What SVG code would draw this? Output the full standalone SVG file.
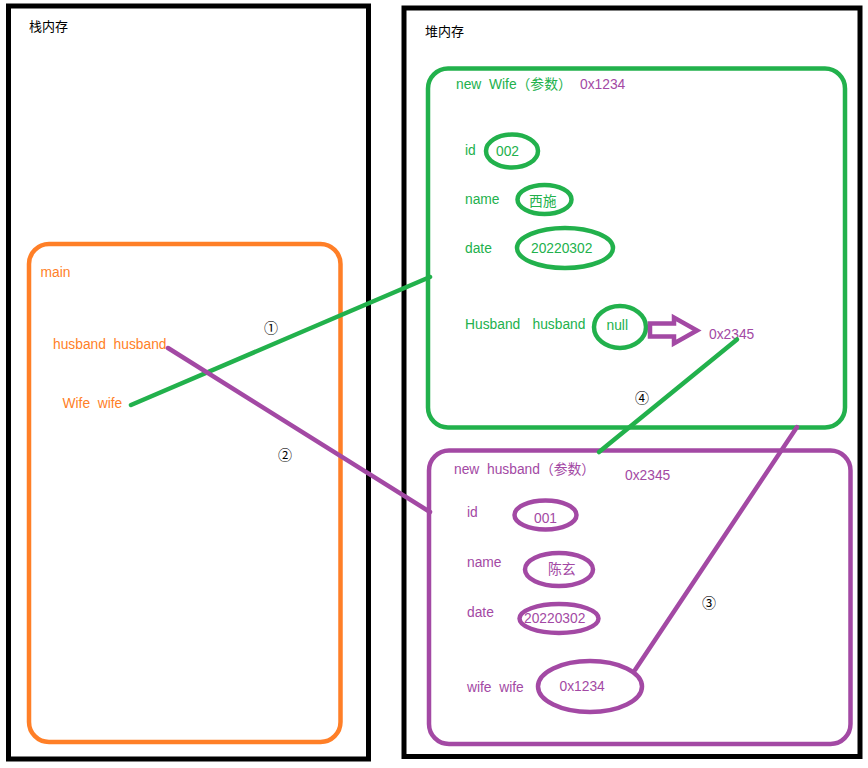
<svg xmlns="http://www.w3.org/2000/svg" width="868" height="768" viewBox="0 0 868 768">
  <style>
    text { font-family: "Liberation Sans", "Noto Sans CJK SC", sans-serif; font-size: 13.8px; white-space: pre; }
    .blk { fill: #000; font-size: 13px; }
    .grn { fill: #22b14c; }
    .pur { fill: #a349a4; }
    .org { fill: #ff7f27; }
    .num { font-family: "Noto Sans CJK SC", "DejaVu Sans", sans-serif; font-size: 14px; fill: #000; }
    .frame { fill: none; stroke: #000; stroke-width: 5; }
    .gbox { fill: none; stroke: #22b14c; stroke-width: 4.5; }
    .pbox { fill: none; stroke: #a349a4; stroke-width: 4.5; }
    .obox { fill: none; stroke: #ff7f27; stroke-width: 4.5; }
    .gline { stroke: #22b14c; stroke-width: 4.5; stroke-linecap: round; fill: none; }
    .pline { stroke: #a349a4; stroke-width: 4.5; stroke-linecap: round; fill: none; }
  </style>
  <rect width="868" height="768" fill="#fff"/>

  <!-- stack memory -->
  <g id="stack">
    <rect class="frame" x="8.5" y="6" width="360" height="753"/>
    <text class="blk" x="29" y="31">栈内存</text>
  </g>

  <!-- heap memory -->
  <g id="heap">
    <rect class="frame" x="404" y="8" width="456" height="748.5"/>
    <text class="blk" x="425" y="36">堆内存</text>
  </g>

  <!-- main stack frame -->
  <g id="main-frame">
    <rect class="obox" x="29" y="244" width="311.5" height="498" rx="20"/>
    <text class="org" x="40.5" y="277">main</text>
    <text class="org" x="53" y="349">husband  husband</text>
    <text class="org" x="62.5" y="408">Wife  wife</text>
  </g>

  <!-- Wife object -->
  <g id="wife-object">
    <rect class="gbox" x="428" y="68.5" width="417" height="359" rx="20"/>
    <text class="grn" x="456" y="89">new  Wife（参数）</text>
    <text class="pur" x="580" y="89">0x1234</text>
    <text class="grn" x="465" y="155">id</text>
    <ellipse class="gbox" cx="512" cy="151" rx="26" ry="16.5"/>
    <text class="grn" x="496" y="156">002</text>
    <text class="grn" x="465" y="204">name</text>
    <ellipse class="gbox" cx="544.5" cy="199.5" rx="27" ry="14.5"/>
    <text class="grn" x="529" y="205.5">西施</text>
    <text class="grn" x="465" y="253">date</text>
    <ellipse class="gbox" cx="565" cy="248" rx="48" ry="20"/>
    <text class="grn" x="531" y="253">20220302</text>
    <text class="grn" x="465" y="329">Husband</text>
    <text class="grn" x="532.5" y="329">husband</text>
    <ellipse class="gbox" cx="620" cy="327" rx="26" ry="21"/>
    <text class="grn" x="606.5" y="330">null</text>
    <polygon points="650,323.5 674,323.5 674,317.5 697,330.5 674,343.5 674,336.5 650,336.5" fill="#fff" stroke="#a349a4" stroke-width="4.5" stroke-linejoin="miter"/>
    <text class="pur" x="709" y="339">0x2345</text>
  </g>

  <!-- husband object -->
  <g id="husband-object">
    <rect class="pbox" x="429" y="450.5" width="421.5" height="293.5" rx="20"/>
    <text class="pur" x="454" y="474">new  husband（参数）</text>
    <text class="pur" x="625" y="480">0x2345</text>
    <text class="pur" x="467" y="517">id</text>
    <ellipse class="pbox" cx="545.5" cy="515" rx="31" ry="14.5"/>
    <text class="pur" x="534" y="523">001</text>
    <text class="pur" x="467" y="567">name</text>
    <ellipse class="pbox" cx="559" cy="569.5" rx="34" ry="16.5"/>
    <text class="pur" x="548" y="573.5">陈玄</text>
    <text class="pur" x="467" y="617">date</text>
    <ellipse class="pbox" cx="559" cy="618.5" rx="39.5" ry="14.5"/>
    <text class="pur" x="524" y="623">20220302</text>
    <text class="pur" x="467" y="692">wife  wife</text>
    <ellipse class="pbox" cx="590" cy="686.5" rx="52" ry="25.5"/>
    <text class="pur" x="559.5" y="691">0x1234</text>
  </g>

  <!-- references between frames and objects -->
  <g id="connectors">
    <line class="gline" x1="131" y1="405" x2="430" y2="277"/>
    <line class="pline" x1="168" y1="348" x2="430" y2="512"/>
    <line class="pline" x1="635" y1="670" x2="797" y2="427"/>
    <line class="gline" x1="737" y1="339.5" x2="599" y2="452"/>
    <text class="num" x="264" y="333">①</text>
    <text class="num" x="278" y="460">②</text>
    <text class="num" x="702" y="608">③</text>
    <text class="num" x="635" y="403">④</text>
  </g>
</svg>
